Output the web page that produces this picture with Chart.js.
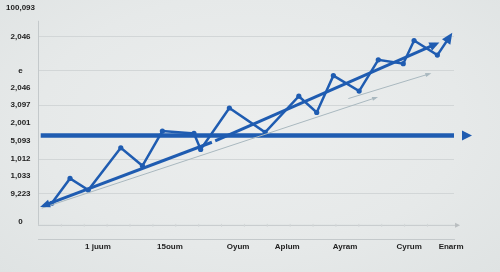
<!DOCTYPE html>
<html>
<head>
<meta charset="utf-8">
<script src="https://cdn.jsdelivr.net/npm/chart.js@4.4.1/dist/chart.umd.min.js"></script>
<style>
  html, body { margin: 0; padding: 0; }
  body {
    width: 500px; height: 272px; overflow: hidden;
    background: radial-gradient(ellipse at 50% 45%, #eceeee 0%, #e6e9e9 60%, #dfe3e3 100%);
  }
  #wrap { width: 500px; height: 272px; }
</style>
</head>
<body>
<div id="wrap"><canvas id="trendChart" width="500" height="272"></canvas></div>
<script>
// ----------------- Datos -----------------

const yTickValues = [100, 86.6, 70.8, 62.8, 54.5, 46.1, 37.7, 29.3, 21.4, 13.2, 0];
const yTickLabels = ['100,093', '2,046', 'e', '2,046', '3,097', '2,001', '5,093', '1,012', '1,033', '9,223', '0'];
const yGridTicks = [1, 2, 4, 7, 9];

const xTickValues = [14.4, 31.7, 48.1, 59.9, 73.8, 89.2, 99.3];
const xTickLabels = ['1 juum', '15oum', 'Oyum', 'Aplum', 'Ayram', 'Cyrum', 'Enarm'];

// serie en zigzag (el último punto es la punta de la flecha)
const zigzagX = [3.3, 7.7, 12.1, 19.9, 25.1, 29.9, 37.5, 39.1, 46.0, 54.6, 62.7, 67.0, 71.0, 77.2, 81.8, 87.8, 90.4, 96.0, 99.0];
const zigzagY = [8.7, 20.3, 14.9, 34.6, 26.2, 42.4, 41.3, 33.8, 53.2, 41.8, 58.7, 51.1, 68.3, 61.1, 75.7, 73.9, 84.7, 77.9, 86.6];

// tendencia gruesa (dos tramos)
const trendAX = [1.4, 41.8];
const trendAY = [7.6, 37.2];
const trendBX = [42.6, 95.6];
const trendBY = [37.8, 83.0];

// tendencias finas
const thinAX = [0.9, 81.2];
const thinAY = [6.4, 58.0];
const thinBX = [74.6, 94.0];
const thinBY = [57.6, 69.1];

// línea horizontal de referencia
const refX = [0.65, 100];
const refY = [40.4, 40.4];

// eje con flecha bajo el gráfico
const arrowAxisY = -1.4;
const arrowAxisEnd = 100.5;

const palette = {
  blue: '#1f5cb1',
  thin: '#a9b8bf',
  grid: '#d2d6d7',
  axis: '#c4c9cb',
  text: '#222222'
};

function pts(xs, ys) {
  return xs.map((x, i) => ({ x, y: ys[i] }));
}

// ----------------- Plugins -----------------

function drawHead(ctx, tipX, tipY, ang, len, w, color) {
  ctx.save();
  ctx.translate(tipX, tipY);
  ctx.rotate(ang);
  ctx.beginPath();
  ctx.moveTo(0, 0);
  ctx.lineTo(-len, -w / 2);
  ctx.lineTo(-len, w / 2);
  ctx.closePath();
  ctx.fillStyle = color;
  ctx.fill();
  ctx.restore();
}

const arrowHeads = {
  id: 'arrowHeads',
  afterDatasetsDraw(chart) {
    const ctx = chart.ctx;
    chart.data.datasets.forEach((ds, i) => {
      const meta = chart.getDatasetMeta(i);
      const d = meta.data;
      if (d.length < 2) return;
      if (ds.arrowEnd) {
        const p = d[d.length - 1], q = d[d.length - 2];
        const ang = Math.atan2(p.y - q.y, p.x - q.x);
        const off = (ds.arrowEnd.gap || 0) + ds.arrowEnd.len * (ds.arrowEnd.gap ? 1 : 0.4);
        drawHead(ctx, p.x + Math.cos(ang) * off, p.y + Math.sin(ang) * off, ang,
          ds.arrowEnd.len, ds.arrowEnd.w, ds.borderColor);
      }
      if (ds.arrowStart) {
        const p = d[0], q = d[1];
        const ang = Math.atan2(p.y - q.y, p.x - q.x);
        const off = ds.arrowStart.len * 0.4;
        drawHead(ctx, p.x + Math.cos(ang) * off, p.y + Math.sin(ang) * off, ang,
          ds.arrowStart.len, ds.arrowStart.w, ds.borderColor);
      }
    });
  }
};

const decoAxes = {
  id: 'decoAxes',
  beforeDatasetsDraw(chart) {
    const { ctx, chartArea, scales } = chart;
    const yA = scales.y.getPixelForValue(arrowAxisY);
    const xEnd = scales.x.getPixelForValue(arrowAxisEnd);
    ctx.save();
    // eje vertical
    ctx.strokeStyle = palette.axis;
    ctx.lineWidth = 1;
    ctx.beginPath();
    ctx.moveTo(chartArea.left + 0.5, chartArea.top + 13);
    ctx.lineTo(chartArea.left + 0.5, yA);
    ctx.stroke();
    // eje horizontal con flecha
    ctx.beginPath();
    ctx.moveTo(chartArea.left, yA + 0.5);
    ctx.lineTo(xEnd, yA + 0.5);
    ctx.stroke();
    for (let v = 5.5; v < arrowAxisEnd - 2; v += 5.5) {
      const x = scales.x.getPixelForValue(v);
      ctx.strokeStyle = '#d3d7d8';
      ctx.beginPath();
      ctx.moveTo(x + 0.5, yA - 1);
      ctx.lineTo(x + 0.5, yA + 2);
      ctx.stroke();
    }
    drawHead(ctx, xEnd + 4, yA + 0.5, 0, 5, 5, '#b9bec0');
    ctx.restore();
  }
};

// ----------------- Gráfico -----------------

const lineBase = {
  showLine: true,
  fill: false,
  tension: 0,
  borderCapStyle: 'butt',
  borderJoinStyle: 'miter'
};

function initChart() {
  const canvas = document.getElementById('trendChart');
  if (!canvas) return;
  const ctx = canvas.getContext('2d');

  new Chart(ctx, {
    type: 'scatter',
    data: {
      datasets: [
        {
          ...lineBase,
          data: pts(thinAX, thinAY),
          borderColor: palette.thin,
          borderWidth: 1,
          pointRadius: 0,
          arrowEnd: { len: 6, w: 4 }
        },
        {
          ...lineBase,
          data: pts(thinBX, thinBY),
          borderColor: palette.thin,
          borderWidth: 1,
          pointRadius: 0,
          arrowEnd: { len: 6, w: 4 }
        },
        {
          ...lineBase,
          data: pts(refX, refY),
          borderColor: palette.blue,
          borderWidth: 4.5,
          pointRadius: 0,
          arrowEnd: { len: 10, w: 10, gap: 8 }
        },
        {
          ...lineBase,
          data: pts(trendAX, trendAY),
          borderColor: palette.blue,
          borderWidth: 3,
          pointRadius: 0,
          arrowStart: { len: 10, w: 8 }
        },
        {
          ...lineBase,
          data: pts(trendBX, trendBY),
          borderColor: palette.blue,
          borderWidth: 3,
          pointRadius: 0,
          arrowEnd: { len: 10, w: 9 }
        },
        {
          ...lineBase,
          data: pts(zigzagX, zigzagY),
          borderColor: palette.blue,
          backgroundColor: palette.blue,
          borderWidth: 2.5,
          pointRadius: zigzagX.map((_, i) => (i === zigzagX.length - 1 ? 0 : 2.6)),
          pointBorderWidth: 0,
          arrowEnd: { len: 11, w: 10 }
        }
      ]
    },
    options: {
      responsive: false,
      animation: false,
      events: [],
      layout: { padding: { top: 7, right: 46, left: 0, bottom: 0 } },
      plugins: {
        legend: { display: false },
        tooltip: { enabled: false }
      },
      elements: { point: { hitRadius: 0 } },
      scales: {
        x: {
          type: 'linear',
          min: 0,
          max: 100,
          afterBuildTicks: (scale) => {
            scale.ticks = xTickValues.map(v => ({ value: v }));
          },
          afterFit: (scale) => { scale.height = 33; },
          grid: { display: false, drawTicks: false },
          border: { display: true, color: palette.axis, width: 1 },
          ticks: {
            autoSkip: false,
            maxRotation: 0,
            padding: 3,
            color: palette.text,
            font: { family: 'Liberation Sans', size: 8, weight: 'bold' },
            callback: (v) => {
              const i = xTickValues.indexOf(v);
              return i >= 0 ? xTickLabels[i] : '';
            }
          }
        },
        y: {
          type: 'linear',
          min: -8,
          max: 100,
          afterBuildTicks: (scale) => {
            scale.ticks = yTickValues.map(v => ({ value: v }));
          },
          afterFit: (scale) => { scale.width = 38; },
          grid: {
            drawTicks: false,
            lineWidth: 1,
            color: (c) => (yGridTicks.includes(c.index) ? palette.grid : 'rgba(0,0,0,0)')
          },
          border: { display: false },
          ticks: {
            autoSkip: false,
            padding: 3,
            crossAlign: 'center',
            color: palette.text,
            font: { family: 'Liberation Sans', size: 8, weight: 'bold' },
            callback: (v) => {
              const i = yTickValues.indexOf(v);
              return i >= 0 ? yTickLabels[i] : '';
            }
          }
        }
      }
    },
    plugins: [decoAxes, arrowHeads]
  });
}

document.addEventListener('DOMContentLoaded', initChart);
</script>
</body>
</html>
